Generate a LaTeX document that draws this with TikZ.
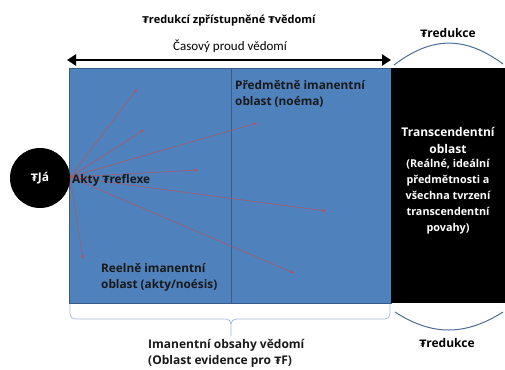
\documentclass[tikz,border=0pt]{standalone}
\usepackage{fontspec}
\setmainfont{Carlito}
\newfontfamily\bsans{Open Sans}
\newfontfamily\tugfont{DejaVu Sans}
\newcommand{\Tg}{{\tugfont\scalebox{0.85}{₮}}}
\usetikzlibrary{arrows.meta}
\definecolor{boxblue}{HTML}{4F81BD}
\definecolor{divblue}{HTML}{385D8A}
\definecolor{arrred}{HTML}{C0504D}
\definecolor{bracecol}{HTML}{A6BBD9}
\tikzset{
  lbl/.style={font=\bsans\bfseries\fontsize{11}{13}\selectfont, inner sep=0pt},
  redlbl/.style={font=\bsans\bfseries\fontsize{12}{13}\selectfont, inner sep=0pt},
  intxt/.style={font=\bsans\bfseries\fontsize{11.8}{16}\selectfont, inner sep=0pt, align=left, text=black!90},
  ray/.style={draw=arrred, line width=0.45pt, -{Stealth[length=4pt,width=3pt]}},
  arcline/.style={draw=divblue!90, line width=1pt},
}
\begin{document}
\begin{tikzpicture}[x=1pt,y=-1pt]
\useasboundingbox (0,0) rectangle (505,369);
% boxes
\fill[boxblue] (69,68) rectangle (391,303);
\draw[divblue, line width=0.6pt] (69,68) rectangle (391,303);
\draw[divblue, line width=0.8pt] (231,68) -- (231,303);
\fill[black] (391,68) rectangle (505,303);
% circle
\node[circle, fill=black, minimum size=60pt, inner sep=0pt, text=white, font=\bsans\bfseries\fontsize{12}{14}\selectfont] (ja) at (40,178) {\Tg Já};
% rays
\coordinate (o) at (70,177);
\coordinate (e1) at (137,89);
\coordinate (e2) at (144,130);
\coordinate (e3) at (257,123);
\coordinate (e4) at (198,170);
\coordinate (e5) at (326,211);
\coordinate (e6) at (83,259);
\coordinate (e7) at (294,273);
\foreach \e in {e1,e2,e3,e4,e5,e6,e7} \draw[ray] (o) -- (\e);
% inner labels
\node[intxt, anchor=west] (akty) at (72,180) {Akty \Tg reflexe};
\node[intxt, anchor=north west] (pred) at (235,80) {Předmětně imanentní\\oblast (noéma)};
\node[intxt, anchor=north west] (reel) at (101,263) {Reelně imanentní\\oblast (akty/noésis)};
% transcendent
\node[font=\bsans\bfseries\fontsize{12}{17}\selectfont, text=white, align=center, inner sep=0pt] (tr) at (448,140) {Transcendentní\\oblast};
\node[font=\bsans\bfseries\fontsize{10.8}{16}\selectfont, text=white, align=center, inner sep=0pt, anchor=north] (trd) at (448,159) {(Reálné, ideální\\předmětnosti a\\všechna tvrzení\\transcendentní\\povahy)};
% top
\node[lbl] (title) at (229,21) {\Tg redukcí zpřístupněné \Tg vědomí};
\node[font=\fontsize{13}{15}\selectfont, inner sep=0pt] (cas) at (230,46) {Časový proud vědomí};
\coordinate (al) at (67,60);
\coordinate (ar) at (391,60);
\draw[line width=2.6pt, {Triangle[length=9pt,width=11pt]}-{Triangle[length=9pt,width=11pt]}] (al) -- (ar);
\node[redlbl] (redtop) at (448,33) {\Tg redukce};
\coordinate (ta) at (394,65);
\coordinate (tb) at (503,64);
\draw[arcline] (ta) .. controls (432,36) and (465,36) .. (tb);
% bottom
\coordinate (ba) at (395,312);
\coordinate (bb) at (503,312);
\draw[arcline] (ba) .. controls (432,336) and (465,336) .. (bb);
\node[redlbl] (redbot) at (447,343) {\Tg redukce};
% brace
\coordinate (bl) at (70,304);
\coordinate (br) at (390,304);
\coordinate (bt) at (231,336);
\draw[bracecol, line width=0.8pt] (bl) -- (70,314) arc[start angle=180,end angle=90,radius=5] -- (226,319) arc[start angle=-90,end angle=0,radius=5] -- (bt);
\draw[bracecol, line width=0.8pt] (br) -- (390,314) arc[start angle=0,end angle=90,radius=5] -- (236,319) arc[start angle=-90,end angle=-180,radius=5];
\node[intxt, font=\bsans\bfseries\fontsize{12}{16}\selectfont, anchor=north west] (iman) at (148,339) {Imanentní obsahy vědomí\\(Oblast evidence pro \Tg F)};
\end{tikzpicture}
\end{document}
